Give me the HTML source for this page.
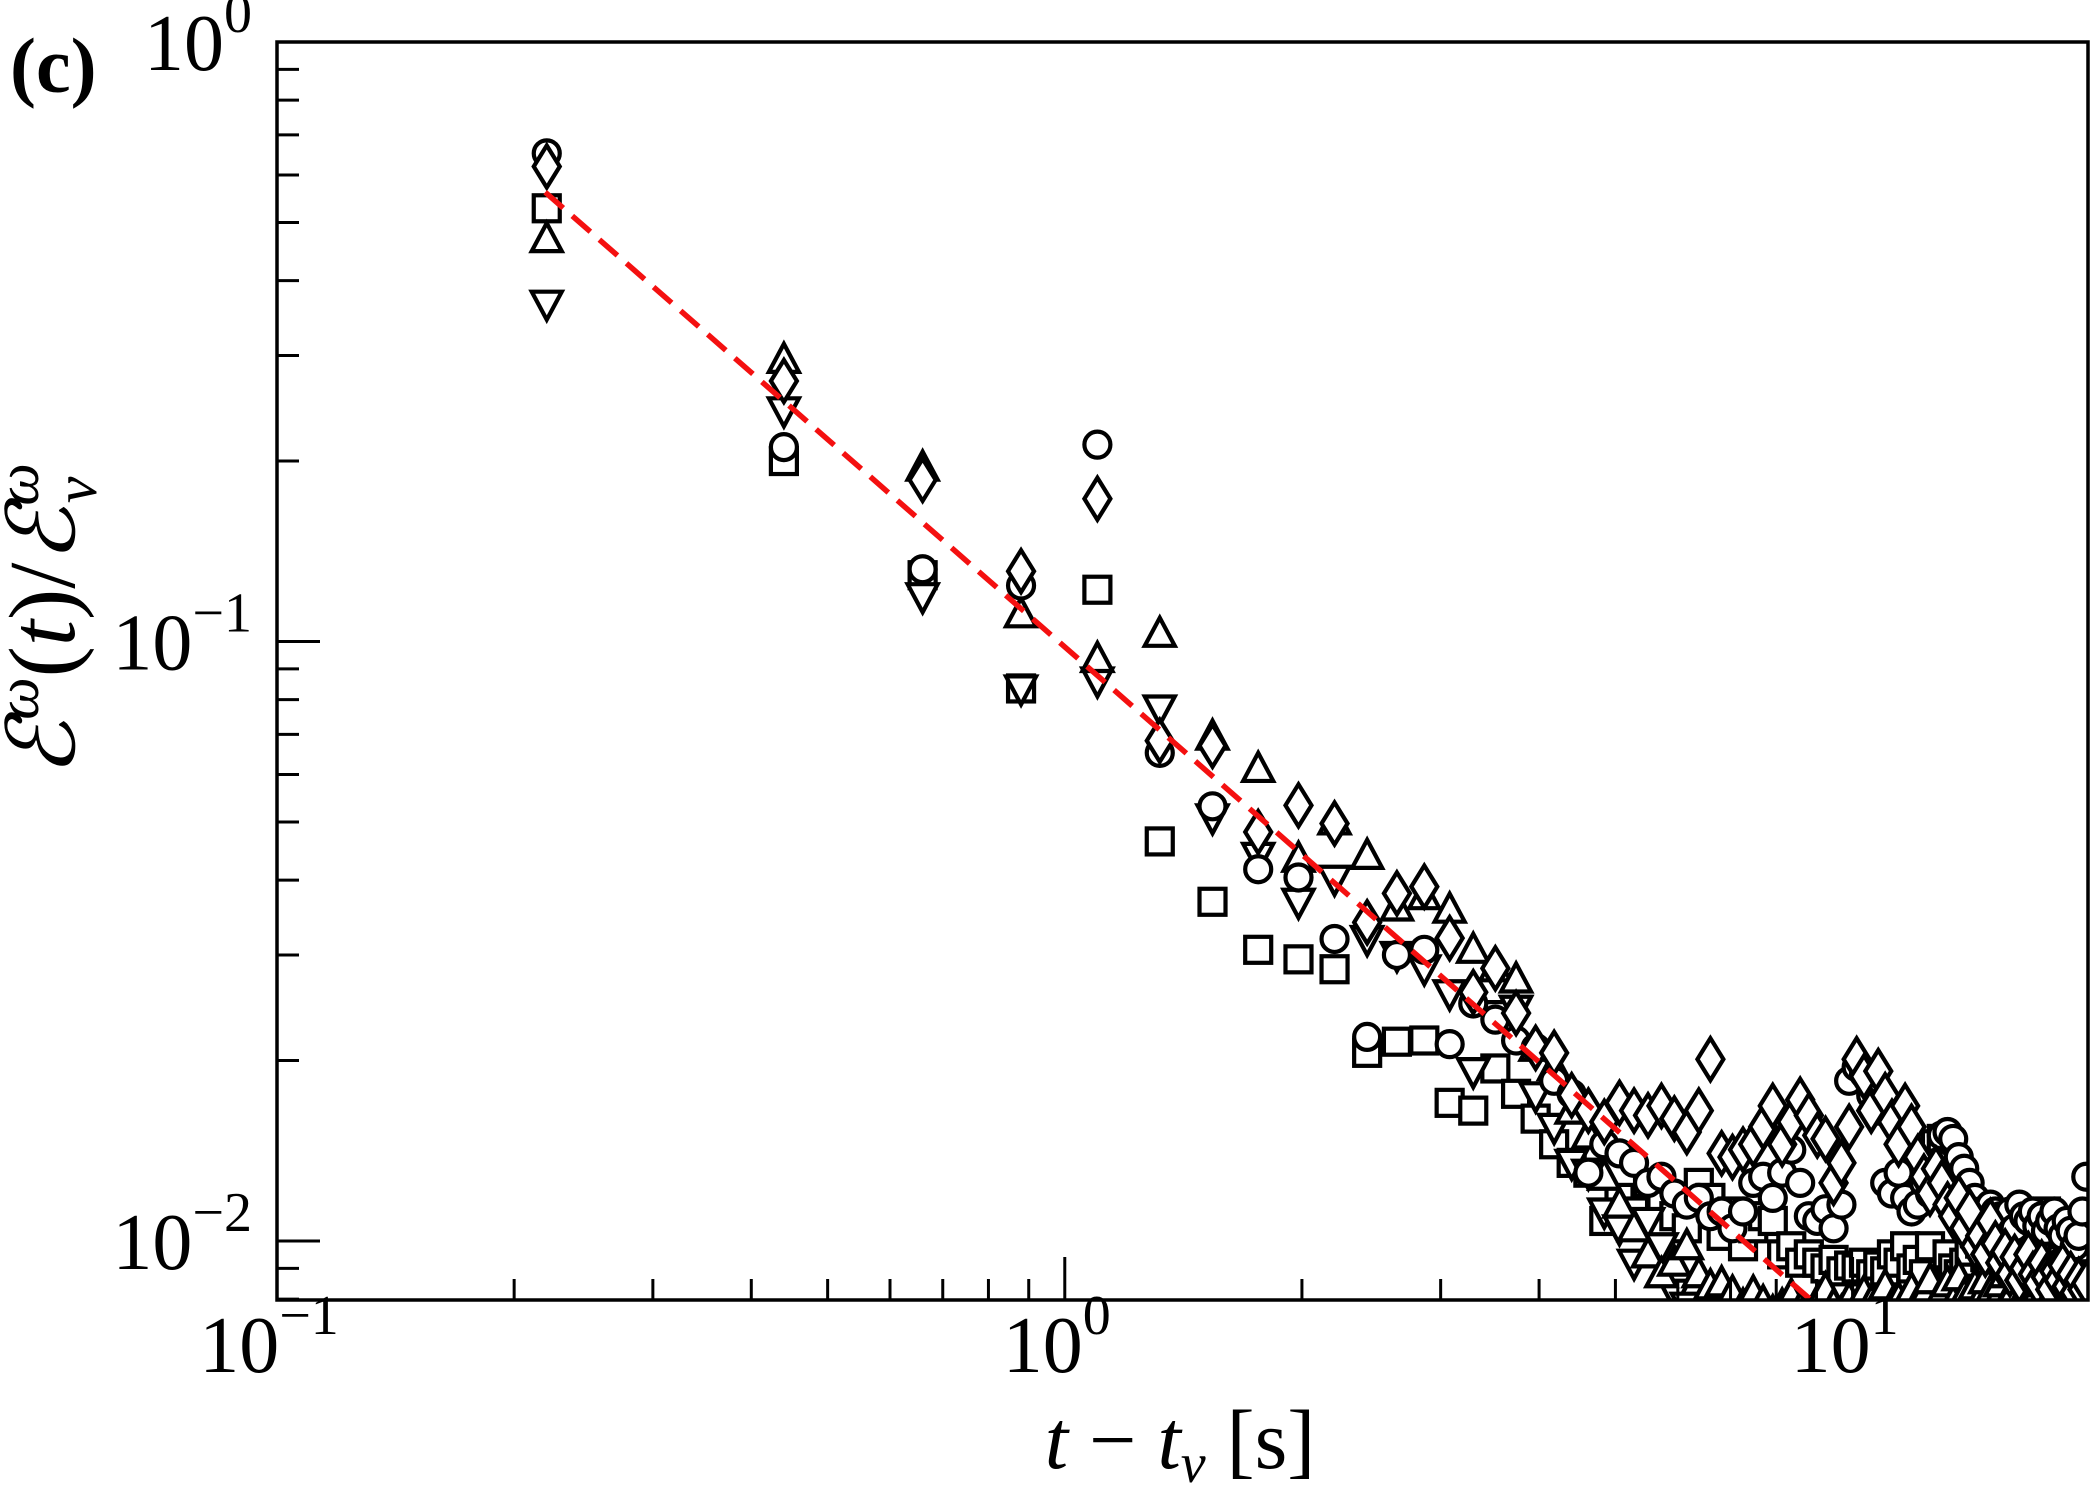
<!DOCTYPE html>
<html><head><meta charset="utf-8"><style>
html,body{margin:0;padding:0;background:#fff;}
svg{display:block;}
text{font-family:"Liberation Serif","DejaVu Serif",serif;fill:#000;}
</style></head><body>
<svg id="chart" width="2100" height="1500" viewBox="0 0 2100 1500" xmlns="http://www.w3.org/2000/svg">
<defs><clipPath id="plotclip"><rect x="277" y="42" width="1811" height="1258"/></clipPath></defs>
<text x="10" y="92" font-size="78" font-weight="bold">(c)</text>
<g id="marks" clip-path="url(#plotclip)"></g>
<g id="axes"></g>
<rect x="277" y="42" width="1811" height="1258" fill="none" stroke="#000" stroke-width="3.5"/>
<text x="1180" y="1468" font-size="84" text-anchor="middle"><tspan font-style="italic">t</tspan> − <tspan font-style="italic">t</tspan><tspan font-style="italic" font-size="56" dy="14">ν</tspan><tspan dy="-14"> [s]</tspan></text>
<text transform="translate(74,620) rotate(-90)" font-size="94" text-anchor="middle"><tspan font-style="italic">ℰ</tspan><tspan font-style="italic" font-size="60" dy="-36">ω</tspan><tspan dy="36">(</tspan><tspan font-style="italic">t</tspan>)/<tspan font-style="italic">ℰ</tspan><tspan font-style="italic" font-size="60" dy="-36">ω</tspan><tspan font-style="italic" font-size="60" dx="-40" dy="58">ν</tspan></text>
</svg>
<script>
const times = Array.from({length:90},(_,i)=>+(0.22*(i+1)).toFixed(2));
const circleVals = [.652,.211,.132,.124,.213,.0652,.0531,.0417,.0404,.0319,.0219,.030,.0306,.0213,.0249,.0234,.0216,.021,.0185,.0176,.013,.0145,.014,.0135,.0125,.0128,.012,.0115,.0118,.011,.0112,.0105,.0112,.0125,.0128,.0118,.013,.0142,.0125,.011,.0108,.0113,.0105,.0115,.0185,.0195,.019,.0175,.0165,.0125,.012,.013,.0118,.0112,.0115,.0125,.012,.0135,.015,.0152,.0148,.0138,.0132,.0125,.0118,.0112,.0108,.0115,.0112,.011,.0108,.0112,.0105,.0115,.011,.0108,.0112,.0106,.011,.0104,.0108,.0112,.0105,.0102,.0108,.0104,.0098,.0102,.0112,.0128];
const squareVals = [.528,.200,.129,.0835,.122,.0464,.0368,.0306,.0295,.0284,.0206,.0215,.0216,.017,.0165,.0194,.0176,.016,.0145,.0135,.013,.0108,.0118,.0112,.0125,.0115,.011,.0105,.0125,.0118,.0102,.0112,.0098,.0105,.011,.0108,.0095,.0098,.0092,.0095,.0092,.009,.0093,.0089,.0091,.009,.0092,.0088,.0091,.0089,.0095,.0092,.0098,.009,.0093,.0088,.0098,.0145,.0148,.0095,.009,.0088,.0092,.0096,.0103,.0099,.0094,.0091,.0096,.0102,.0098,.0093,.0089,.0092,.0098,.0094,.009,.0092,.0105,.0112,.0108,.0102,.0096,.0093,.009,.0095,.0098,.0105,.0092,.0088];
const triUpVals = [.469,.295,.195,.111,.0935,.103,.0694,.0613,.0434,.0501,.0439,.036,.0376,.0357,.0306,.0285,.0273,.021,.0195,.0165,.015,.0128,.0115,.0105,.0095,.0088,.0092,.0098,.0088,.0084,.0085,.0082,.0078,.0082,.0079,.0076,.0078,.0081,.0077,.0075,.0079,.0083,.0078,.0076,.0080,.0077,.0082,.0079,.0076,.0084,.0078,.0080,.0077,.0083,.0079,.0081,.0086,.0078,.0082,.0085,.0079,.0087,.0081,.0078,.0084,.0080,.0086,.0082,.0079,.0085,.0088,.0081,.0083,.0086,.0080,.0084,.0087,.0082,.0079,.0085,.0083,.0081,.0086,.0080,.0084,.0082,.0079,.0085,.0081,.0083];
const triDownVals = [.366,.243,.119,.0835,.0861,.0773,.0509,.0439,.0368,.0402,.0319,.030,.0285,.0259,.0192,.0239,.0244,.0175,.0155,.0135,.013,.0112,.0105,.0092,.0108,.0098,.0082,.0078,.0076,.0074,.0077,.0073,.0075,.0072,.0076,.0074,.0073,.0075,.0072,.0074,.0076,.0073,.0075,.0072,.0074,.0073,.0076,.0074,.0072,.0075,.0073,.0074,.0076,.0072,.0075,.0073,.0074,.0076,.0075,.0073,.0078,.0074,.0076,.0079,.0075,.0077,.0080,.0076,.0078,.0081,.0077,.0079,.0082,.0078,.0080,.0083,.0079,.0081,.0078,.0082,.0080,.0079,.0083,.0081,.0080,.0084,.0082,.0079,.0081,.0083];
const diamondVals = [.62,.272,.186,.131,.173,.0683,.067,.0481,.0533,.0497,.034,.038,.039,.032,.026,.0285,.024,.021,.0206,.0175,.0165,.0158,.017,.0165,.0162,.0168,.016,.0152,.0165,.0201,.014,.0138,.0142,.0145,.0155,.0168,.0145,.0158,.0172,.0162,.015,.0148,.0125,.0135,.0155,.0201,.0188,.0165,.0192,.0175,.0158,.0145,.0168,.0155,.0138,.0128,.012,.0132,.0125,.0115,.011,.0118,.0105,.0112,.0098,.0102,.0095,.0108,.0099,.0092,.0096,.0088,.0094,.0086,.009,.0095,.0088,.0085,.0092,.0087,.0083,.0089,.0086,.0091,.0084,.0088,.0082,.0086,.0083,.0085];
const fitAmp = 0.5616, fitT0 = 0.219, fitSlope = -1.15, fitTend = 20;
const xTickLabels = ["−1","0","1"];
const yTickLabels = ["0","−1","−2"];

const L=277,R=2088,T=42,B=1300;
const xMinLog=-1, xMaxLog=Math.log10(19.9);
const yMaxLog=0, yMinLog=-(B-T)/599.5;
const X=t=>L+(Math.log10(t)-xMinLog)/(xMaxLog-xMinLog)*(R-L);
const Y=v=>T+(yMaxLog-Math.log10(v))/(yMaxLog-yMinLog)*(B-T);
const NS="http://www.w3.org/2000/svg";
const marks=document.getElementById('marks'), axes=document.getElementById('axes');
function mk(tag,attrs,parent){const e=document.createElementNS(NS,tag);for(const k in attrs)e.setAttribute(k,attrs[k]);parent.appendChild(e);return e;}
const sty={fill:'#fff',stroke:'#000','stroke-width':4.2};
function shape(kind,cx,cy){
  let e;
  if(kind==='circle'){e=mk('circle',Object.assign({cx:cx,cy:cy,r:13},sty),marks);}
  else if(kind==='square'){e=mk('rect',Object.assign({x:cx-13,y:cy-13,width:26,height:26},sty),marks);}
  else if(kind==='tri-up'){e=mk('polygon',Object.assign({points:`${cx},${cy-16} ${cx+15},${cy+12} ${cx-15},${cy+12}`},sty),marks);}
  else if(kind==='tri-down'){e=mk('polygon',Object.assign({points:`${cx},${cy+16} ${cx+15},${cy-12} ${cx-15},${cy-12}`},sty),marks);}
  else {e=mk('polygon',Object.assign({points:`${cx},${cy-21} ${cx+13},${cy} ${cx},${cy+21} ${cx-13},${cy}`},sty),marks);}
  return e;
}
const series=[['square',squareVals],['tri-down',triDownVals],['tri-up',triUpVals],['circle',circleVals],['diamond',diamondVals]];
series.forEach(([kind,vals])=>{
  vals.forEach((v,i)=>{
    const e=shape(kind,X(times[i]),Y(v));
    
    
  });
});
const fl=mk('line',{x1:X(fitT0),y1:Y(fitAmp),x2:X(fitTend),y2:Y(fitAmp*Math.pow(fitTend/fitT0,fitSlope)),stroke:'#f41010','stroke-width':5.5,'stroke-dasharray':'24 12'},marks);


for(let k=-1;k<=1;k++){
  for(let m=1;m<=9;m++){
    const t=m*Math.pow(10,k); if(t<0.1||t>19.9)continue;
    const x=X(t), len=m===1?43:21;
    const tk=mk('line',{x1:x,y1:B,x2:x,y2:B-len,stroke:'#000','stroke-width':3},axes);
    
    
  }
}
for(let k=0;k<3;k++){
  const x=X(Math.pow(10,k-1));
  const tx=mk('text',{x:x-8,y:1372,'font-size':80,'text-anchor':'middle'},axes);
  tx.innerHTML='10<tspan font-size="56" dy="-38">'+xTickLabels[k]+'</tspan>';
  
  
}
for(let k=-3;k<=-1;k++){
  for(let m=1;m<=9;m++){
    const v=m*Math.pow(10,k); if(v<Math.pow(10,yMinLog)||v>1)continue;
    const y=Y(v), len=m===1?43:22;
    const tk=mk('line',{x1:L,y1:y,x2:L+len,y2:y,stroke:'#000','stroke-width':3},axes);
    
    
  }
}
for(let k=0;k<3;k++){
  const y=Y(Math.pow(10,-k));
  const tx=mk('text',{x:252,y:y+28,'font-size':80,'text-anchor':'end'},axes);
  tx.innerHTML='10<tspan font-size="56" dy="-38">'+yTickLabels[k]+'</tspan>';
  
  
}
</script>
</body></html>
